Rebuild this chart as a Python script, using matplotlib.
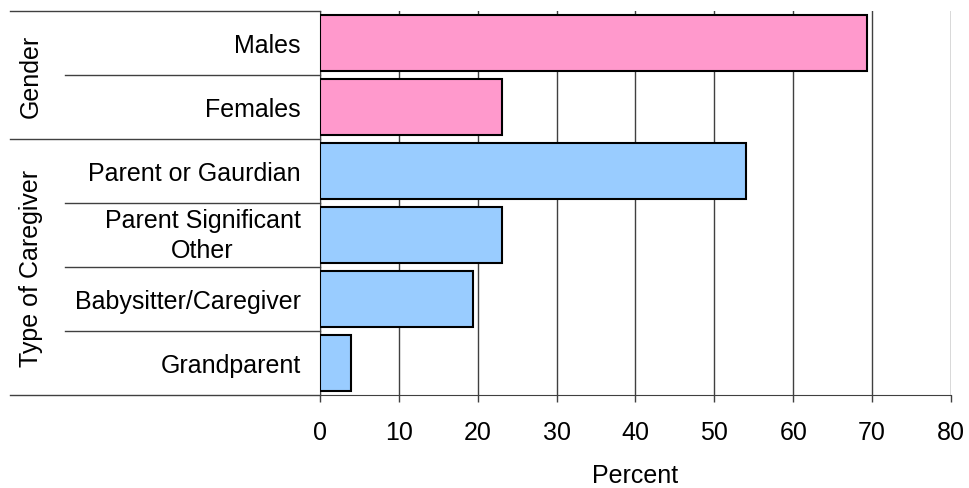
import matplotlib.pyplot as plt
import numpy as np

plt.rcParams['font.family'] = ['Liberation Sans', 'DejaVu Sans']

# categories top to bottom
labels = ['Males', 'Females', 'Parent or Gaurdian', 'Parent Significant\nOther',
          'Babysitter/Caregiver', 'Grandparent']
values = [69.3, 23.1, 54.0, 23.1, 19.4, 3.9]
groups = ['Gender', 'Type of Caregiver']
group_sizes = [2, 4]
group_colors = ['#FF99CC', '#99CCFF']

line_clr = '#404040'
fs = 18

fig = plt.figure(figsize=(9.69, 4.89), dpi=100)
ax = fig.add_axes([0.3302, 0.1902, 0.6512, 0.7853])

n = len(labels)
ypos = np.arange(n)
clrs = []
for g, size in enumerate(group_sizes):
    clrs += [group_colors[g]] * size

ax.barh(ypos, values, height=0.86, color=clrs, edgecolor='black',
        linewidth=1.5, zorder=3)
ax.set_ylim(n - 0.5, -0.5)
ax.set_xlim(0, 80)
ax.set_xticks(range(0, 81, 10))
ax.set_yticks(ypos)
ax.set_yticklabels(labels, fontsize=fs, multialignment='center',
                   linespacing=1.3)
for lbl in ax.get_yticklabels():
    if '\n' in lbl.get_text():
        lbl.set_va('center')
ax.tick_params(axis='y', length=0, pad=14)
ax.tick_params(axis='x', length=5, width=1, color=line_clr, labelsize=fs,
               pad=13)
ax.xaxis.grid(True, color=line_clr, linewidth=1, zorder=0)
for s in ['top', 'right']:
    ax.spines[s].set_visible(False)
for s in ['left', 'bottom']:
    ax.spines[s].set_color(line_clr)
ax.set_xlabel('Percent', fontsize=fs, labelpad=14)

# separator lines and group labels on the left
tr = ax.get_yaxis_transform()
x_far = (10 - 320) / 631
x_near = (65 - 320) / 631
x_text = (31 - 320) / 631
start = 0
for g, size in enumerate(group_sizes):
    top = start - 0.5
    bot = start + size - 0.5
    ax.plot([x_far, 0], [top, top], transform=tr, color=line_clr,
            linewidth=1, clip_on=False)
    for k in range(1, size):
        yb = top + k
        ax.plot([x_near, 0], [yb, yb], transform=tr, color=line_clr,
                linewidth=1, clip_on=False)
    ax.text(x_text, (top + bot) / 2, groups[g], transform=tr, rotation=90,
            ha='center', va='center', fontsize=fs)
    start += size
ax.plot([x_far, 0], [n - 0.5, n - 0.5], transform=tr, color=line_clr,
        linewidth=1, clip_on=False)

fig.savefig('out.png', dpi=100)
